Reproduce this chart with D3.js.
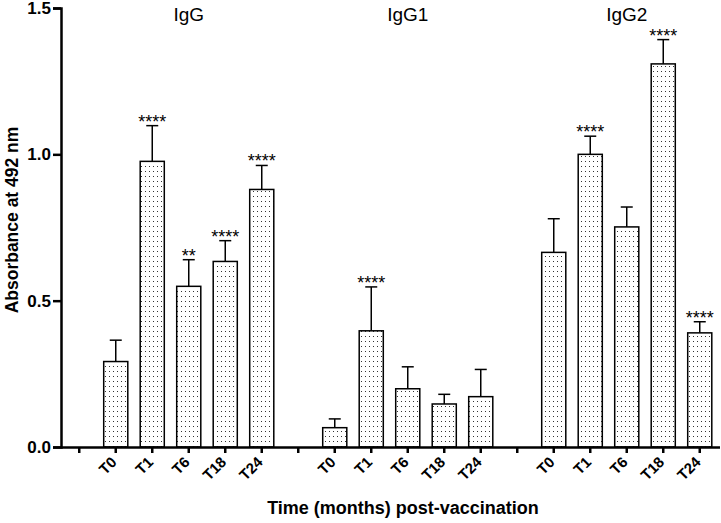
<!DOCTYPE html>
<html><head><meta charset="utf-8">
<script src="https://cdn.jsdelivr.net/npm/d3@7"></script>
<style>body{margin:0;background:#fff}svg{display:block}text{font-family:"Liberation Sans",Arial,sans-serif}</style>
</head><body>
<svg id="c" width="721" height="523"></svg>
<script>
const groups = ["IgG", "IgG1", "IgG2"];
const timepoints = ["T0", "T1", "T6", "T18", "T24"];
const means = [
  [0.292, 0.976, 0.549, 0.634, 0.880],
  [0.066, 0.397, 0.199, 0.147, 0.172],
  [0.665, 1.000, 0.752, 1.309, 0.390]
];
const errTops = [
  [0.365, 1.098, 0.640, 0.705, 0.962],
  [0.096, 0.547, 0.274, 0.180, 0.265],
  [0.780, 1.062, 0.820, 1.392, 0.428]
];
const stars = [
  ["", "****", "**", "****", "****"],
  ["", "****", "", "", ""],
  ["", "****", "", "****", "****"]
];
const yTicks = [0.0, 0.5, 1.0, 1.5];

const svg = d3.select("#c");
const x0 = 61, x1 = 718, yBase = 447, yTop = 8;

// slots: blank + 5 per group
const slots = [];
groups.forEach((g, gi) => {
  slots.push({key: g + "_blank", label: ""});
  timepoints.forEach((t, ti) => slots.push({key: g + "_" + t, label: t, gi, ti}));
});

const x = d3.scaleBand().domain(slots.map(d => d.key)).range([x0, x1]).paddingInner(0.34).paddingOuter(0.17);
const y = d3.scaleLinear().domain([0, 1.5]).range([yBase, yTop]);

// pattern
const defs = svg.append("defs");
const pat = defs.append("pattern").attr("id", "dots").attr("patternUnits", "userSpaceOnUse")
  .attr("width", 4).attr("height", 5);
pat.append("rect").attr("width", 4).attr("height", 5).attr("fill", "#fff");
pat.append("rect").attr("x", 1).attr("y", 1).attr("width", 1).attr("height", 1).attr("fill", "#333");

const bars = slots.filter(d => d.label);
const g = svg.append("g");

// error bars
bars.forEach(d => {
  const cx = x(d.key) + x.bandwidth() / 2;
  const top = y(errTops[d.gi][d.ti]);
  const m = y(means[d.gi][d.ti]);
  g.append("line").attr("x1", cx).attr("x2", cx).attr("y1", m).attr("y2", top)
    .attr("stroke", "#000").attr("stroke-width", 1.5);
  g.append("line").attr("x1", cx - 6).attr("x2", cx + 6).attr("y1", top).attr("y2", top)
    .attr("stroke", "#000").attr("stroke-width", 1.5);
  const s = stars[d.gi][d.ti];
  if (s) g.append("text").attr("x", cx).attr("y", top + 2).attr("text-anchor", "middle")
    .attr("font-size", 18).attr("fill", "#000").text(s);
});

g.selectAll("rect.bar").data(bars).join("rect").attr("class", "bar")
  .attr("x", d => x(d.key)).attr("width", x.bandwidth())
  .attr("y", d => y(means[d.gi][d.ti])).attr("height", d => yBase - y(means[d.gi][d.ti]))
  .attr("fill", "url(#dots)").attr("stroke", "#000").attr("stroke-width", 1.5);

// y axis
const ya = svg.append("g").attr("transform", `translate(${x0},0)`)
  .call(d3.axisLeft(y).tickValues(yTicks).tickFormat(d3.format(".1f")).tickSize(8).tickPadding(2));
ya.select(".domain").attr("stroke-width", 2.5);
ya.selectAll(".tick line").attr("stroke-width", 2.5);
ya.selectAll(".tick text").attr("font-size", 17).attr("font-weight", "bold")
  .attr("font-family", "Liberation Sans, Arial, sans-serif").attr("fill", "#000");

// x axis
const xa = svg.append("g").attr("transform", `translate(0,${yBase})`)
  .call(d3.axisBottom(x).tickFormat(k => slots.find(s => s.key === k).label).tickSize(6).tickSizeOuter(0));
xa.select(".domain").attr("stroke-width", 2.5).attr("d", `M${x0},0.5H${x1 + 2}`);
xa.selectAll(".tick line").attr("stroke-width", 2.5);
xa.selectAll(".tick text").attr("font-size", 15).attr("font-weight", "bold")
  .attr("font-family", "Liberation Sans, Arial, sans-serif").attr("fill", "#000")
  .attr("text-anchor", "end").attr("dy", null).attr("y", 0)
  .attr("transform", "translate(2,16) rotate(-45)");

// group labels
groups.forEach((gname, gi) => {
  const k0 = x(gname + "_T0"), k1 = x(gname + "_T24") + x.bandwidth();
  svg.append("text").attr("x", (k0 + k1) / 2).attr("y", 21).attr("text-anchor", "middle")
    .attr("font-size", 19).attr("fill", "#000").text(gname);
});

// axis titles
svg.append("text").attr("x", 403).attr("y", 514).attr("text-anchor", "middle")
  .attr("font-size", 18).attr("font-weight", "bold").text("Time (months) post-vaccination");
svg.append("text").attr("transform", "translate(18,220) rotate(-90)").attr("text-anchor", "middle")
  .attr("font-size", 17.5).attr("font-weight", "bold").text("Absorbance at 492 nm");
</script>
</body></html>
